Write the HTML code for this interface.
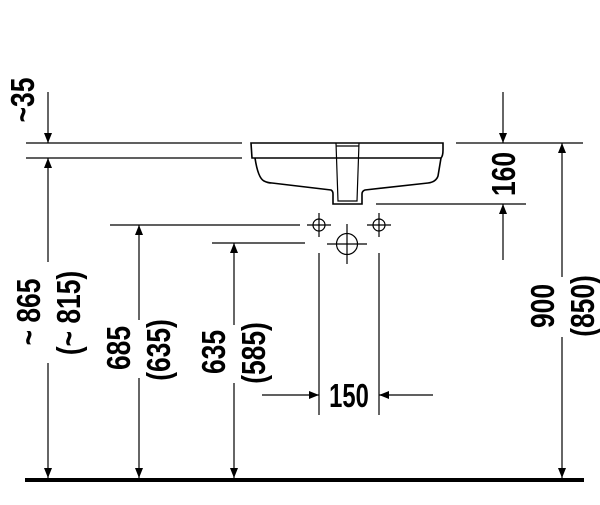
<!DOCTYPE html>
<html><head><style>
body{margin:0;background:#fff}
svg text{font-family:"Liberation Sans",sans-serif;font-weight:bold;font-size:33px;fill:#000}
</style></head><body>
<svg width="600" height="500" viewBox="0 0 600 500" xmlns="http://www.w3.org/2000/svg">
<defs>
<marker id="a" viewBox="0 0 10 10" refX="10" refY="5" markerWidth="10" markerHeight="10" markerUnits="userSpaceOnUse" orient="auto"><path d="M0,1 L10,5 L0,9 z" fill="#000"/></marker>
</defs>
<g stroke="#000" stroke-width="1.2" fill="none">
<line x1="26" y1="143" x2="242" y2="143"/>
<line x1="26" y1="158" x2="242" y2="158"/>
<line x1="456" y1="143" x2="583" y2="143"/>
<line x1="376" y1="204" x2="526" y2="204"/>
<line x1="110" y1="225" x2="300" y2="225"/>
<line x1="212" y1="243" x2="305" y2="243"/>
<line x1="319" y1="253" x2="319" y2="415"/>
<line x1="379" y1="253" x2="379" y2="415"/>
<line x1="48" y1="92" x2="48" y2="143" marker-end="url(#a)"/>
<line x1="48" y1="262" x2="48" y2="158" marker-end="url(#a)"/>
<line x1="48" y1="363" x2="48" y2="478" marker-end="url(#a)"/>
<line x1="139" y1="320" x2="139" y2="225" marker-end="url(#a)"/>
<line x1="139" y1="378" x2="139" y2="478" marker-end="url(#a)"/>
<line x1="234" y1="325" x2="234" y2="243" marker-end="url(#a)"/>
<line x1="234" y1="383" x2="234" y2="478" marker-end="url(#a)"/>
<line x1="503" y1="92" x2="503" y2="143" marker-end="url(#a)"/>
<line x1="503" y1="260" x2="503" y2="204" marker-end="url(#a)"/>
<line x1="562" y1="277" x2="562" y2="143" marker-end="url(#a)"/>
<line x1="562" y1="337" x2="562" y2="478" marker-end="url(#a)"/>
<line x1="262" y1="395" x2="319" y2="395" marker-end="url(#a)"/>
<line x1="433" y1="395" x2="379" y2="395" marker-end="url(#a)"/>
<path d="M251,143 L443,143 L443,150 Q443,156 441,158 L252,158 L251,143 Z" stroke-width="1.6"/>
<path d="M255,158 Q258,178 264,181 Q268,183 272,183 L331,190 Q333,191 333,194 L333,204 L362,204 L362,194 Q362,191 365,190 L428,183 Q436,182 438,176 L441,158" stroke-width="1.6"/>
<path d="M336,143 L338,201 L357,201 L359,143" stroke-width="1.2"/>
<line x1="336" y1="146" x2="359" y2="146"/>
<circle cx="319" cy="225" r="6"/>
<line x1="307" y1="225" x2="331" y2="225"/><line x1="319" y1="213" x2="319" y2="237"/>
<circle cx="379" cy="225" r="6"/>
<line x1="367" y1="225" x2="391" y2="225"/><line x1="379" y1="213" x2="379" y2="237"/>
<circle cx="347" cy="244" r="10.5"/>
<line x1="327" y1="244" x2="367" y2="244"/><line x1="347" y1="224" x2="347" y2="264"/>
</g>
<line x1="25" y1="480" x2="584" y2="480" stroke="#000" stroke-width="4"/>
<text transform="translate(34,100) rotate(-90) scale(0.8,1)" text-anchor="middle">~35</text>
<text transform="translate(40,312) rotate(-90) scale(0.8,1)" text-anchor="middle">~ 865</text>
<text transform="translate(80,313) rotate(-90) scale(0.8,1)" text-anchor="middle">(~ 815)</text>
<text transform="translate(130,348) rotate(-90) scale(0.8,1)" text-anchor="middle">685</text>
<text transform="translate(170,350) rotate(-90) scale(0.8,1)" text-anchor="middle">(635)</text>
<text transform="translate(225,352) rotate(-90) scale(0.8,1)" text-anchor="middle">635</text>
<text transform="translate(265,353) rotate(-90) scale(0.8,1)" text-anchor="middle">(585)</text>
<text transform="translate(515,174) rotate(-90) scale(0.8,1)" text-anchor="middle">160</text>
<text transform="translate(554,306) rotate(-90) scale(0.8,1)" text-anchor="middle">900</text>
<text transform="translate(594,306) rotate(-90) scale(0.8,1)" text-anchor="middle">(850)</text>
<text transform="translate(349,407) scale(0.72,1)" text-anchor="middle">150</text>
</svg>
</body></html>
